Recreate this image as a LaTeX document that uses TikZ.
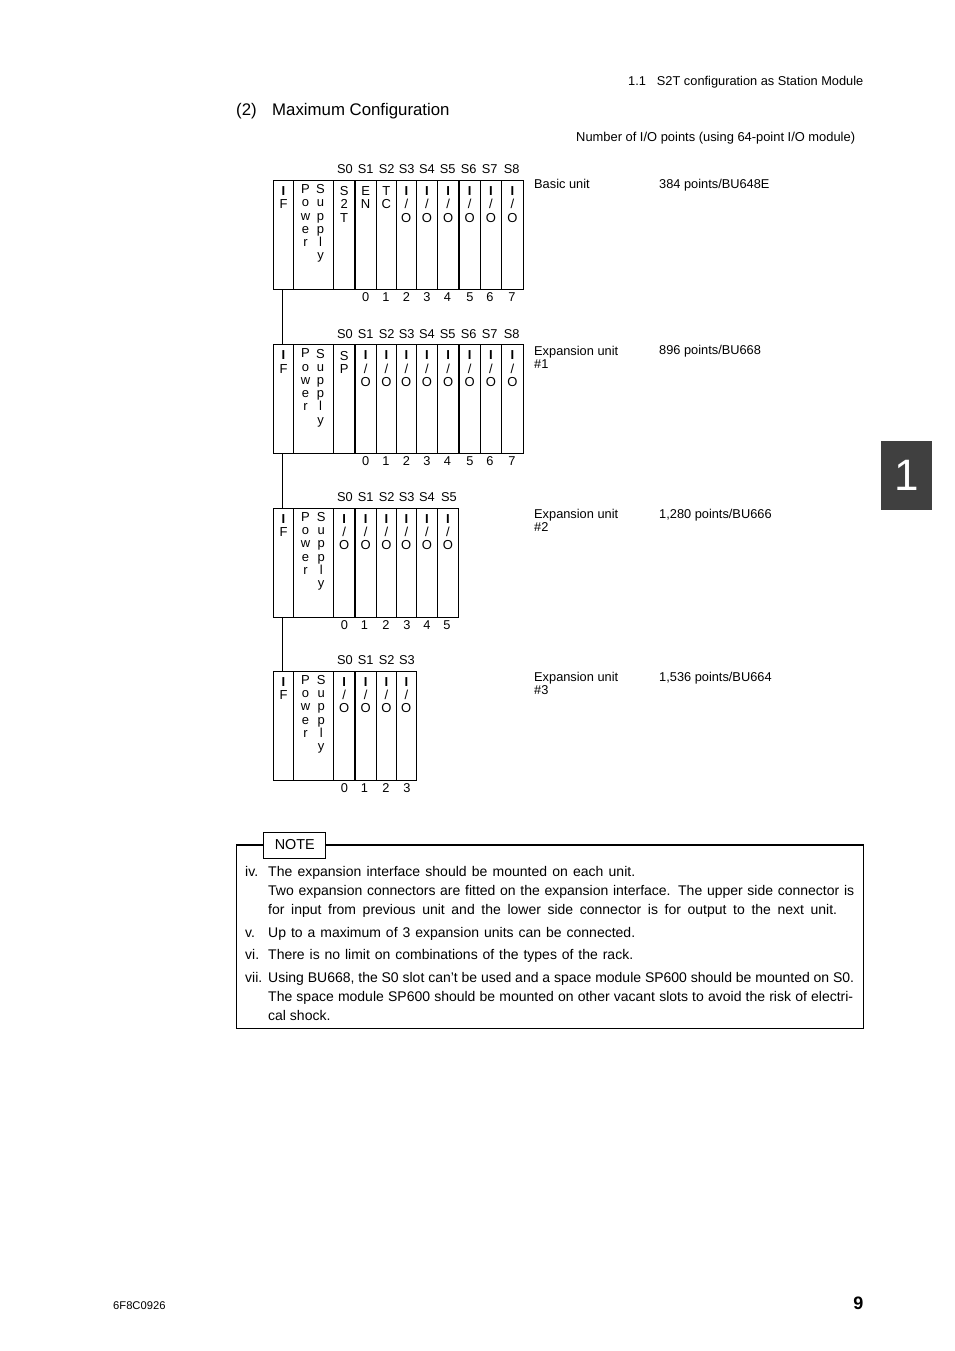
\documentclass[tikz,border=0pt]{standalone}
\usepackage{fontspec}
\setmainfont{Liberation Sans}
\def\fs#1#2{\fontsize{#1}{#2}\selectfont}
\def\bI{\textbf{I}}
\def\sIF{\bI\\F}
\def\sIO{\bI\\/\\O}
\def\sST{S\\2\\T}
\def\sEN{E\\N}
\def\sTC{T\\C}
\def\sSP{S\\P}
\def\sPW{P\\o\\w\\e\\r}
\def\sSU{S\\u\\p\\p\\l\\y}
\def\psx{0}
\tikzset{
  cell/.style={draw=black,line width=0.9pt,anchor=north west,inner sep=0,outer sep=0,minimum height=109pt},
  stack/.style={anchor=north,inner sep=0,align=center,font=\fs{13}{13.2}},
  slot/.style={anchor=base,inner sep=0,font=\fs{12.8}{13}},
  lbl/.style={anchor=base west,inner sep=0,font=\fs{12.8}{13.2},align=left},
  bodyt/.style={anchor=base west,inner sep=0,font=\fs{14}{16}},
  link/.style={draw=black,line width=1pt},
  thick divider/.style={draw=black,line width=2pt}
}
\newcommand{\bl}[2]{\makebox[#1pt][s]{#2}}
\newcommand{\rack}[3]{%
  \node[cell,minimum width=20pt] (#1if) at (273.3,#2) {};
  \node[stack] (#1ift) at (283.5,#2+6) {\sIF};
  \node[cell,minimum width=40pt] (#1ps) at (293.3,#2) {};
  \node[stack] (#1pw) at (305.5,#2+4) {\sPW};
  \node[stack] (#1su) at (320.5+\psx,#2+4) {\sSU};
  \foreach \i/\l/\r/\t in {#3}{
    \pgfmathsetmacro{\w}{\r-\l}
    \node[cell,minimum width=\w pt] (#1c\i) at (\l,#2) {};
    \pgfmathsetmacro{\m}{(\l+\r)/2}
    \node[stack] (#1t\i) at (\m,#2+6) {\t};
  }
}
\newcommand{\slots}[3]{%
  \foreach \i/\x/\t in {#3}{
    \node[slot] (#1\i) at (\x,#2) {\t};
  }
}
\begin{document}
\begin{tikzpicture}[x=1pt,y=-1pt]
\useasboundingbox (0,0) rectangle (954,1351);
\fill[white] (0,0) rectangle (954,1351);

\node[anchor=base east,inner sep=0,font=\fs{12.8}{14}] (head) at (863.5,85.5) {1.1\hspace{11pt}S2T configuration as Station Module};
\node[anchor=base west,inner sep=0,font=\fs{16.8}{18}] (sec) at (236,115.5) {(2)};
\node[anchor=base west,inner sep=0,font=\fs{16.8}{18}] (title) at (272,115.5) {Maximum Configuration};
\node[anchor=base west,inner sep=0,font=\fs{12.9}{14}] (num) at (576,141.3) {Number of I/O points (using 64-point I/O module)};

% Rack 1
\rack{a}{180.5}{0/333.3/355/\sST,1/355/376.3/\sEN,2/376.3/396.3/\sTC,3/396.3/416.3/\sIO,4/416.3/437.3/\sIO,5/437.3/459/\sIO,6/459/480.3/\sIO,7/480.3/501.3/\sIO,8/501.3/523.3/\sIO}
\draw[thick divider] (ac0.north east) -- (ac0.south east);
\draw[thick divider] (ac5.north east) -- (ac5.south east);
\slots{ah}{174}{0/345/S0,1/365.7/S1,2/386.7/S2,3/406.7/S3,4/427/S4,5/447.7/S5,6/468.7/S6,7/489.7/S7,8/511.7/S8}
\slots{an}{301}{0/365.7/0,1/386/1,2/406.5/2,3/427/3,4/447.5/4,5/470/5,6/490/6,7/512/7}

% Rack 2
\rack{b}{344.8}{0/333.3/355/\sSP,1/355/376.3/\sIO,2/376.3/396.3/\sIO,3/396.3/416.3/\sIO,4/416.3/437.3/\sIO,5/437.3/459/\sIO,6/459/480.3/\sIO,7/480.3/501.3/\sIO,8/501.3/523.3/\sIO}
\draw[thick divider] (bc0.north east) -- (bc0.south east);
\draw[thick divider] (bc5.north east) -- (bc5.south east);
\slots{bh}{338.5}{0/345/S0,1/365.7/S1,2/386.7/S2,3/406.7/S3,4/427/S4,5/447.7/S5,6/468.7/S6,7/489.7/S7,8/511.7/S8}
\slots{bn}{465.5}{0/365.7/0,1/386/1,2/406.5/2,3/427/3,4/447.5/4,5/470/5,6/490/6,7/512/7}

\def\psx{0.7}
% Rack 3
\rack{c}{508.3}{0/333.3/355/\sIO,1/355/376.3/\sIO,2/376.3/396.3/\sIO,3/396.3/416.3/\sIO,4/416.3/437.3/\sIO,5/437.3/458.5/\sIO}
\draw[thick divider] (cc0.north east) -- (cc0.south east);
\slots{ch}{501.5}{0/345/S0,1/365.7/S1,2/386.7/S2,3/406.7/S3,4/427/S4,5/449/S5}
\slots{cn}{629.5}{0/344.5/0,1/364.5/1,2/386/2,3/407/3,4/427/4,5/447/5}

% Rack 4
\rack{d}{671.3}{0/333.3/355/\sIO,1/355/376.3/\sIO,2/376.3/396.3/\sIO,3/396.3/416.3/\sIO}
\draw[thick divider] (dc0.north east) -- (dc0.south east);
\slots{dh}{664.5}{0/345/S0,1/365.7/S1,2/386.7/S2,3/407/S3}
\slots{dn}{792.5}{0/344.5/0,1/364.5/1,2/386/2,3/407/3}

% Links
\draw[link] ([xshift=-1pt]aif.south) -- ([xshift=-1pt]bif.north);
\draw[link] ([xshift=-1pt]bif.south) -- ([xshift=-1pt]cif.north);
\draw[link] ([xshift=-1pt]cif.south) -- ([xshift=-1pt]dif.north);

% Labels
\node[lbl] (l1) at (534,188.6) {Basic unit};
\node[lbl] (p1) at (659,188.6) {384 points/BU648E};
\node[lbl] (l2) at (534,355) {Expansion unit};
\node[lbl] (l2b) at (534,368) {\#1};
\node[lbl] (p2) at (659,354.5) {896 points/BU668};
\node[lbl] (l3) at (534,518) {Expansion unit};
\node[lbl] (l3b) at (534,531) {\#2};
\node[lbl] (p3) at (659,518) {1,280 points/BU666};
\node[lbl] (l4) at (534,681) {Expansion unit};
\node[lbl] (l4b) at (534,694) {\#3};
\node[lbl] (p4) at (659,681) {1,536 points/BU664};

% Note
\draw[line width=0.9pt] (236.5,845) -- (236.5,1028.5) -- (863.5,1028.5) -- (863.5,845);
\draw[line width=1.8pt] (236,845) -- (864,845);
\node[draw=black,fill=white,line width=0.9pt,minimum width=62pt,minimum height=26pt,inner sep=0,anchor=north west,font=\fs{14.4}{16}] (note) at (263.3,831.5) {NOTE};

\node[bodyt] (n1) at (245,876) {iv.};
\node[bodyt] (t1) at (268,876) {\bl{367}{The expansion interface should be mounted on each unit.}};
\node[bodyt] (t2) at (268,895) {\bl{586}{Two expansion connectors are fitted on the expansion interface. The upper side connector is}};
\node[bodyt] (t3) at (268,914) {\bl{569}{for input from previous unit and the lower side connector is for output to the next unit.}};
\node[bodyt] (n2) at (245,937) {v.};
\node[bodyt] (t4) at (268,937) {\bl{367}{Up to a maximum of 3 expansion units can be connected.}};
\node[bodyt] (n3) at (245,959) {vi.};
\node[bodyt] (t5) at (268,959) {\bl{365}{There is no limit on combinations of the types of the rack.}};
\node[bodyt] (n4) at (245,982) {vii.};
\node[bodyt] (t6) at (268,982) {\bl{586}{Using BU668, the S0 slot can't be used and a space module SP600 should be mounted on S0.}};
\node[bodyt] (t7) at (268,1001) {\bl{585}{The space module SP600 should be mounted on other vacant slots to avoid the risk of electri-}};
\node[bodyt] (t8) at (268,1020) {cal shock.};

% Tab
\node[fill=black!75,minimum width=51pt,minimum height=69pt,inner sep=0,anchor=north west,text=white,font=\fs{44}{46}] (tab) at (881,441) {1};

% Footer
\node[anchor=base west,inner sep=0,font=\fs{11.2}{13}] (doc) at (113,1309) {6F8C0926};
\node[anchor=base east,inner sep=0,font=\bfseries\fs{18}{20}] (page) at (863.5,1309) {9};
\end{tikzpicture}
\end{document}
